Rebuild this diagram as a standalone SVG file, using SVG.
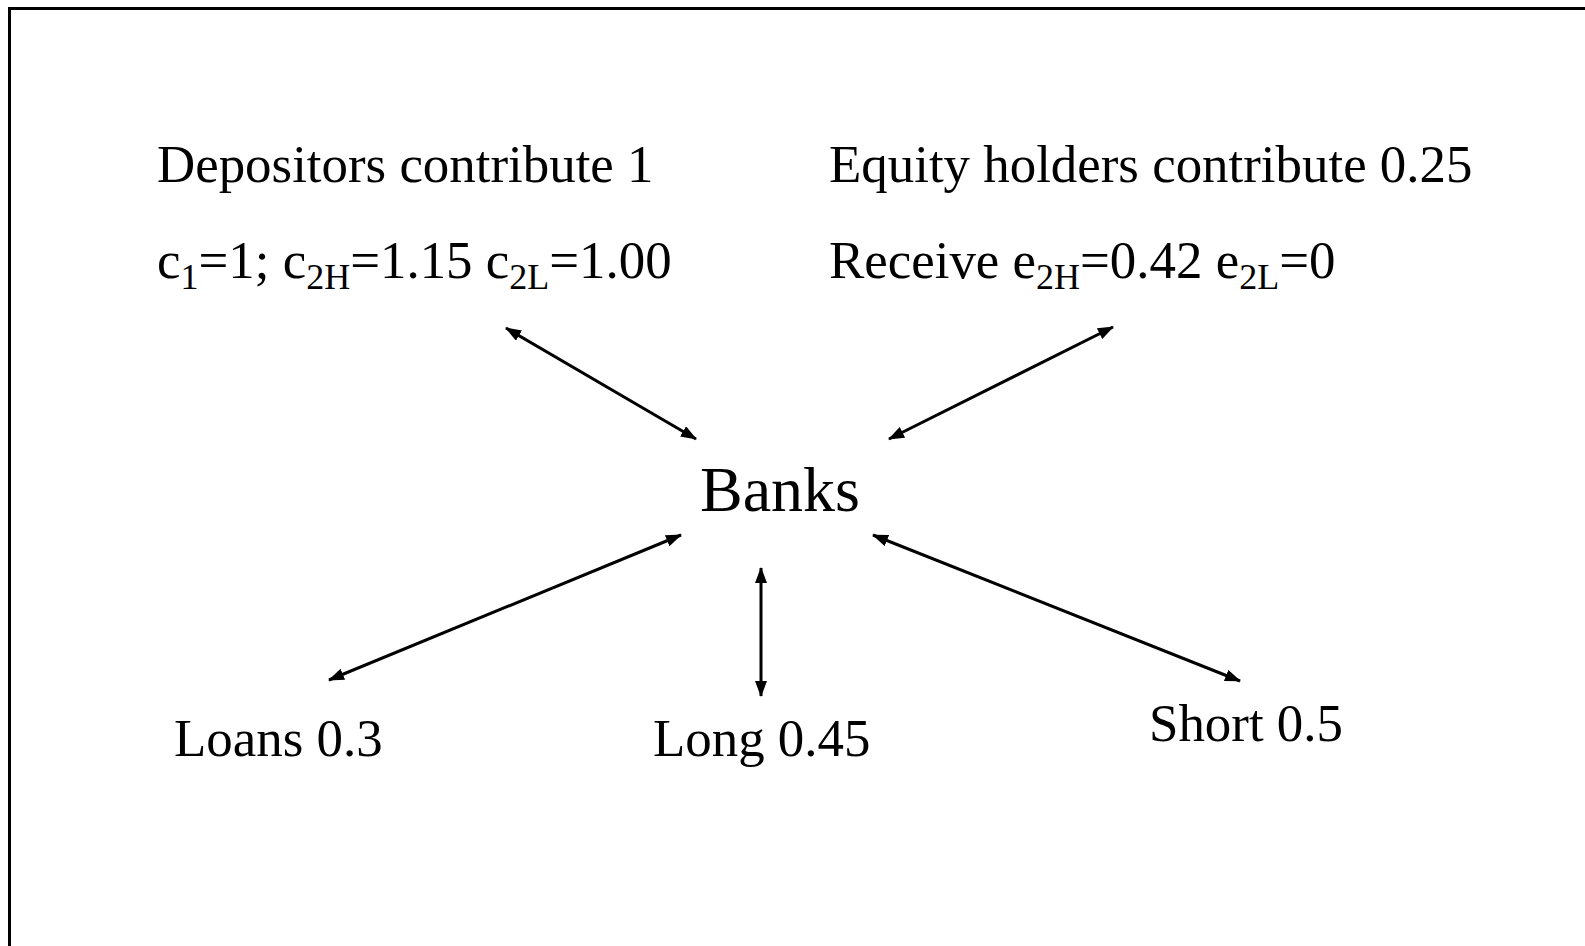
<svg xmlns="http://www.w3.org/2000/svg" width="1585" height="946" viewBox="0 0 1585 946">
<style>
text{font-family:"Liberation Serif","Times New Roman",serif;fill:#000;font-size:52.9px}
.big{font-size:64px}
.sub{font-size:36px}
.c{stroke:#000;stroke-width:3;fill:none;marker-start:url(#ah);marker-end:url(#ah)}
</style>
<defs>
<marker id="ah" viewBox="0 0 16 12" refX="15" refY="6" markerWidth="16" markerHeight="12" markerUnits="userSpaceOnUse" orient="auto-start-reverse">
<path d="M0,0 L16,6 L0,12 Z" fill="#000"/>
</marker>
</defs>
<rect width="1585" height="946" fill="#fff"/>
<path d="M9.5,946 L9.5,8.5 L1585,8.5" fill="none" stroke="#000" stroke-width="3"/>
<g id="depositors">
<text x="157" y="182">Depositors contribute 1</text>
<text x="157" y="278">c<tspan class="sub" dy="11">1</tspan><tspan dy="-11">=1; c</tspan><tspan class="sub" dy="11">2H</tspan><tspan dy="-11">=1.15 c</tspan><tspan class="sub" dy="11">2L</tspan><tspan dy="-11">=1.00</tspan></text>
</g>
<g id="equity">
<text x="829" y="182">Equity holders contribute 0.25</text>
<text x="829" y="278">Receive e<tspan class="sub" dy="11">2H</tspan><tspan dy="-11">=0.42 e</tspan><tspan class="sub" dy="11">2L</tspan><tspan dy="-11">=0</tspan></text>
</g>
<g id="banks"><text class="big" x="700" y="511">Banks</text></g>
<g id="loans"><text x="174" y="756">Loans 0.3</text></g>
<g id="long"><text x="653" y="756">Long 0.45</text></g>
<g id="short"><text x="1149" y="741">Short 0.5</text></g>
<g id="connectors">
<line class="c" x1="506" y1="328" x2="696" y2="439"/>
<line class="c" x1="1113" y1="327" x2="889" y2="439"/>
<line class="c" x1="681" y1="535" x2="329" y2="680"/>
<line class="c" x1="873" y1="535" x2="1240" y2="681"/>
<line class="c" x1="761" y1="568" x2="761" y2="696"/>
</g>
</svg>
